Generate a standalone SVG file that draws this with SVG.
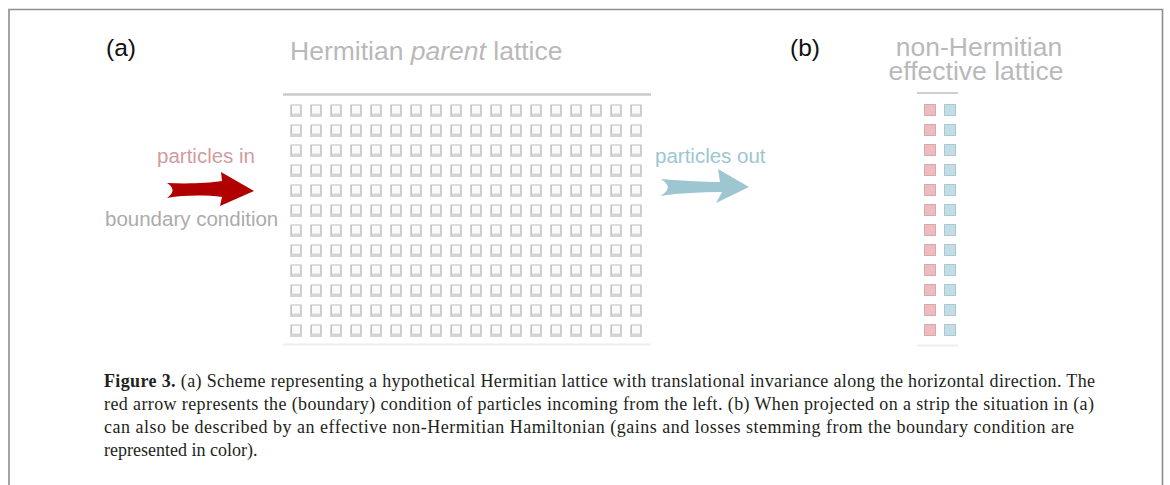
<svg xmlns="http://www.w3.org/2000/svg" width="1170" height="485" viewBox="0 0 1170 485">
<style>
.lbl{font-family:"Liberation Sans",Arial,sans-serif}
.panel{font-size:24.5px;fill:#111}
.title{font-size:26.5px;fill:#b9b9b9}
.side{font-size:20.5px}
.cap{font-family:"Liberation Serif","Times New Roman",serif;font-size:18px;fill:#231f20}
</style>
<defs>
<filter id="soft" x="-5%" y="-5%" width="110%" height="110%"><feGaussianBlur stdDeviation="0.6"/></filter>
<pattern id="sq" x="290" y="104" width="20" height="20" patternUnits="userSpaceOnUse">
<rect x="0.8" y="1.8" width="10.2" height="10.2" fill="none" stroke="#d4d4d4" stroke-width="2"/>
<rect x="1.5" y="1" width="9.2" height="9.2" fill="#fafafa" stroke="#c4c4c4" stroke-width="1"/>
</pattern>
<pattern id="rsq" x="924" y="104" width="20" height="20" patternUnits="userSpaceOnUse">
<rect x="0.5" y="0.5" width="11" height="11" fill="#ebbcc0" stroke="#dca6ac" stroke-width="1"/>
</pattern>
<pattern id="bsq" x="944" y="104" width="20" height="20" patternUnits="userSpaceOnUse">
<rect x="0.5" y="0.5" width="11" height="11" fill="#c2dde3" stroke="#a8cbd3" stroke-width="1"/>
</pattern>
</defs>
<rect width="1170" height="485" fill="#fff"/>
<g id="frame" fill="none" stroke="#8e8e8e" stroke-width="1.6">
<path d="M9,485 V9.5 H1162.5 V485"/>
</g>
<g id="panel-a">
<text class="lbl panel" x="106" y="56">(a)</text>
<text class="lbl title" x="290" y="60">Hermitian <tspan font-style="italic">parent</tspan> lattice</text>
</g>
<g id="lattice">
<line x1="283" y1="94.5" x2="651" y2="94.5" stroke="#cacaca" stroke-width="2.5"/>
<rect x="290" y="104" width="360" height="240" fill="url(#sq)" filter="url(#soft)"/>
<line x1="283" y1="344.5" x2="651" y2="344.5" stroke="#ededed" stroke-width="2"/>
</g>
<g id="particles-in">
<text class="lbl side" x="157" y="163" fill="#cf9ca1">particles in</text>
<text class="lbl side" x="105" y="226" fill="#acacac">boundary condition</text>
</g>
<g id="particles-out">
<text class="lbl side" x="655" y="163" fill="#9dc6d1">particles out</text>
</g>
<g id="connectors">
<path d="M167,183 C190,184 208,183 222,181 L221,172 L254,191 L220,206 L222,197 C205,195 185,195 167,198 Q178,190 167,183 Z" fill="#b10000"/>
<path d="M661,179 C685,181 705,182 720,182 L718,169 L749,187 L716,203 L722,192 C700,192 680,193 660,196 Q675,188 661,179 Z" fill="#9ec6d1"/>
</g>
<g id="panel-b">
<text class="lbl panel" x="790" y="56">(b)</text>
<text class="lbl title" x="979" y="56" text-anchor="middle">non-Hermitian</text>
<text class="lbl title" x="976" y="80" text-anchor="middle">effective lattice</text>
</g>
<g id="strip">
<line x1="917" y1="93" x2="958" y2="93" stroke="#cfcfcf" stroke-width="2"/>
<g filter="url(#soft)">
<rect x="924" y="104" width="12" height="240" fill="url(#rsq)"/>
<rect x="944" y="104" width="12" height="240" fill="url(#bsq)"/>
</g>
<line x1="917" y1="345.5" x2="958" y2="345.5" stroke="#efefef" stroke-width="2"/>
</g>
<g id="caption" class="cap">
<text x="104" y="387" textLength="991" lengthAdjust="spacing"><tspan font-weight="bold">Figure 3.</tspan> (a) Scheme representing a hypothetical Hermitian lattice with translational invariance along the horizontal direction. The</text>
<text x="104" y="410" textLength="990" lengthAdjust="spacing">red arrow represents the (boundary) condition of particles incoming from the left. (b) When projected on a strip the situation in (a)</text>
<text x="104" y="433" textLength="970" lengthAdjust="spacing">can also be described by an effective non-Hermitian Hamiltonian (gains and losses stemming from the boundary condition are</text>
<text x="104" y="456">represented in color).</text>
</g>
</svg>
